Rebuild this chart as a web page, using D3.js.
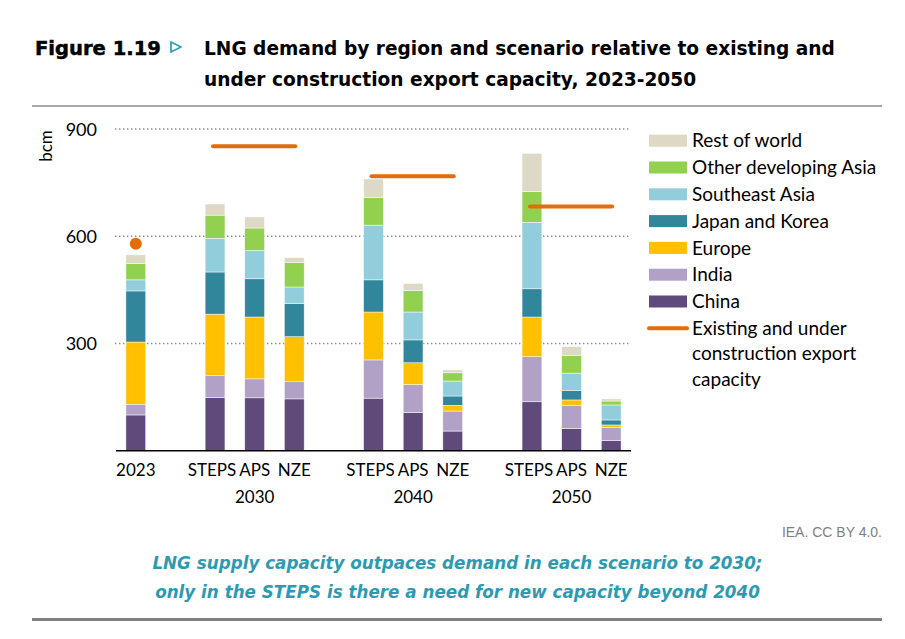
<!DOCTYPE html>
<html>
<head>
<meta charset="utf-8">
<script src="https://cdn.jsdelivr.net/npm/d3@7"></script>
<style>
  html, body { margin: 0; padding: 0; background: #fff; }
  svg { display: block; }
</style>
</head>
<body>
<svg id="chart" width="905" height="639"></svg>
<script>
// ---------------- DATA ----------------
const groups = ["2023", "2030", "2040", "2050"];
const categories = ["2023", "2030 STEPS", "2030 APS", "2030 NZE", "2040 STEPS", "2040 APS", "2040 NZE", "2050 STEPS", "2050 APS", "2050 NZE"];
const scenarioLabels = ["2023", "STEPS", "APS", "NZE", "STEPS", "APS", "NZE", "STEPS", "APS", "NZE"];
const seriesNames = ["China", "India", "Europe", "Japan and Korea", "Southeast Asia", "Other developing Asia", "Rest of world"];
const china       = [100, 149, 148, 145, 147, 107, 55, 137, 62, 28];
const india       = [30,  61,  53,  48,  107, 78,  56, 126, 64, 37];
const europe      = [174, 172, 173, 126, 134, 61,  16, 111, 16, 7];
const japanKorea  = [143, 118, 107, 93,  90,  64,  26, 79,  27, 14];
const southeastAsia = [31, 94, 79,  46,  153, 78,  42, 186, 48, 42];
const otherDevAsia  = [46, 65, 63,  68,  77,  60,  23, 86,  50, 11];
const restOfWorld   = [24, 31, 31,  14,  52,  20,  8,  107, 24, 6];
const capacityYears = ["2030", "2040", "2050"];
const capacityValues = [852, 768, 683];
const capacity2023 = 579;
const yTicks = [300, 600, 900];
const seriesColors = ["#604A7B", "#B2A1C7", "#FFC000", "#31869B", "#92CDDC", "#92D050", "#DDD9C4"];
const capacityColor = "#E46C0A";

// -------------- BUILD ----------------
const seriesValues = [china, india, europe, japanKorea, southeastAsia, otherDevAsia, restOfWorld];
const table = categories.map((c, i) => {
  const row = { cat: c, group: c.split(" ")[0], label: scenarioLabels[i] };
  seriesNames.forEach((s, k) => row[s] = seriesValues[k][i]);
  return row;
});
const slots = [];
groups.forEach((g, gi) => {
  if (gi > 0) slots.push("gap" + gi);
  categories.filter(c => c.split(" ")[0] === g).forEach(c => slots.push(c));
});

const svg = d3.select("#chart");
const FONT = "Lato, 'Noto Sans', sans-serif";

const x = d3.scaleBand().domain(slots).range([116, 631]).paddingInner(0.5).paddingOuter(0.25);
const y = d3.scaleLinear().domain([0, 900]).range([450.7, 129]);

// gridlines
svg.append("g").selectAll("line").data(yTicks).join("line")
  .attr("x1", 115).attr("x2", 630)
  .attr("y1", d => y(d)).attr("y2", d => y(d))
  .attr("stroke", "#8c8c8c").attr("stroke-width", 1.4)
  .attr("stroke-dasharray", "1.4 2.6");

// y axis tick labels
const yAxis = d3.axisLeft(y).tickValues(yTicks).tickSize(0).tickPadding(0).tickFormat(d3.format("d"));
const yg = svg.append("g").attr("transform", "translate(97,0)").call(yAxis);
yg.select(".domain").remove();
yg.selectAll("text").attr("font-family", FONT).attr("font-size", 18).attr("fill", "#000").attr("dy", "0.34em");

// y label
svg.append("text").attr("transform", "translate(52,146) rotate(-90)")
  .attr("text-anchor", "middle").attr("font-family", FONT).attr("font-size", 17).attr("fill", "#000").text("bcm");

// stacked bars
const stack = d3.stack().keys(seriesNames)(table);
svg.append("g").selectAll("g").data(stack).join("g")
  .attr("fill", (d, i) => seriesColors[i])
  .selectAll("rect").data(d => d).join("rect")
  .attr("x", d => x(d.data.cat))
  .attr("width", x.bandwidth())
  .attr("y", d => y(d[1]))
  .attr("height", d => y(d[0]) - y(d[1]))
  .attr("stroke", "#ffffff").attr("stroke-width", 0.6).attr("stroke-opacity", 0.8);

// baseline axis
const xAxis = d3.axisBottom(x).tickSize(0).tickFormat("");
const xg = svg.append("g").attr("transform", `translate(0,${y(0)})`).call(xAxis);
xg.select(".domain").attr("stroke", "#000").attr("stroke-width", 1.6).attr("d", `M116,0H631`);
xg.selectAll(".tick").remove();

// x labels row 1
svg.append("g").selectAll("text").data(table).join("text")
  .attr("x", d => x(d.cat) + x.bandwidth() / 2 - (d.label === "STEPS" ? 3 : 0))
  .attr("y", 476)
  .attr("text-anchor", "middle").attr("font-family", FONT).attr("font-size", 17).attr("fill", "#000")
  .text(d => d.label);
// x labels row 2 (years)
svg.append("g").selectAll("text").data(groups.slice(1)).join("text")
  .attr("x", g => {
    const cs = categories.filter(c => c.split(" ")[0] === g);
    return (x(cs[0]) + x(cs[cs.length - 1]) + x.bandwidth()) / 2;
  })
  .attr("y", 503)
  .attr("text-anchor", "middle").attr("font-family", FONT).attr("font-size", 17).attr("fill", "#000")
  .text(g => g);

// capacity lines
svg.append("g").selectAll("line").data(capacityYears).join("line")
  .attr("x1", (g) => x(g + " STEPS") + x.bandwidth() / 2 - 2)
  .attr("x2", (g) => x(g + " NZE") + x.bandwidth() / 2 + 1)
  .attr("y1", (g, i) => y(capacityValues[i]))
  .attr("y2", (g, i) => y(capacityValues[i]))
  .attr("stroke", capacityColor).attr("stroke-width", 4).attr("stroke-linecap", "round");
svg.append("circle").attr("cx", x("2023") + x.bandwidth() / 2).attr("cy", y(capacity2023)).attr("r", 6).attr("fill", capacityColor);

// legend
const legendItems = seriesNames.slice().reverse();
const legendColors = seriesColors.slice().reverse();
const lg = svg.append("g");
const LFS = 19;
legendItems.forEach((name, i) => {
  const cy = 140.7 + i * 26.8;
  lg.append("rect").attr("x", 649).attr("y", cy - 6).attr("width", 38).attr("height", 12).attr("fill", legendColors[i]);
  lg.append("text").attr("x", 692).attr("y", cy).attr("dy", "0.35em")
    .attr("font-family", FONT).attr("font-size", LFS).attr("fill", "#000").text(name);
});
{
  const cy = 140.7 + 7 * 26.8;
  lg.append("line").attr("x1", 649).attr("x2", 687).attr("y1", cy).attr("y2", cy)
    .attr("stroke", capacityColor).attr("stroke-width", 4).attr("stroke-linecap", "round");
  ["Existing and under", "construction export", "capacity"].forEach((t, j) => {
    lg.append("text").attr("x", 692).attr("y", cy + j * 25.5).attr("dy", "0.35em")
      .attr("font-family", FONT).attr("font-size", LFS).attr("fill", "#000").text(t);
  });
}

// title
function fit(sel, target) {
  const w = sel.node().getComputedTextLength();
  const fs = parseFloat(sel.attr("font-size"));
  sel.attr("font-size", fs * target / w);
}
const fig = svg.append("text").attr("x", 35).attr("y", 55).attr("font-family", "'DejaVu Sans', sans-serif")
  .attr("font-weight", "bold").attr("font-size", 20).attr("fill", "#000").attr("stroke", "#000").attr("stroke-width", 0.5)
  .text("Figure 1.19");
fit(fig, 126);
svg.append("path").attr("d", "M171,42 L181,47 L171,52 Z").attr("fill", "none").attr("stroke", "#31A0B8").attr("stroke-width", 1.8).attr("stroke-linejoin", "round");
const TFONT = "'DejaVu Sans', sans-serif";
const t1 = svg.append("text").attr("x", 204).attr("y", 55).attr("font-family", TFONT).attr("font-weight", "bold")
  .attr("font-size", 18).attr("fill", "#000").text("LNG demand by region and scenario relative to existing and");
fit(t1, 631);
svg.append("text").attr("x", 204).attr("y", 86).attr("font-family", TFONT).attr("font-weight", "bold")
  .attr("font-size", t1.attr("font-size")).attr("fill", "#000").text("under construction export capacity, 2023-2050");

// rules
svg.append("line").attr("x1", 32).attr("x2", 882).attr("y1", 106).attr("y2", 106).attr("stroke", "#8a8a8a").attr("stroke-width", 1.5);
svg.append("line").attr("x1", 32).attr("x2", 882).attr("y1", 619.5).attr("y2", 619.5).attr("stroke", "#808080").attr("stroke-width", 3);

// source
svg.append("text").attr("x", 882).attr("y", 532).attr("dy", "0.35em").attr("text-anchor", "end")
  .attr("font-family", "'Liberation Sans Narrow', 'Liberation Sans', sans-serif").attr("font-size", 14).attr("fill", "#7f7f7f")
  .text("IEA. CC BY 4.0.");

// subtitle
const SFONT = "'DejaVu Sans', sans-serif";
const s1 = svg.append("text").attr("x", 457.5).attr("y", 569).attr("text-anchor", "middle").attr("font-family", SFONT)
  .attr("font-weight", "bold").attr("font-style", "italic").attr("font-size", 17).attr("fill", "#2E9AB2")
  .text("LNG supply capacity outpaces demand in each scenario to 2030;");
fit(s1, 611);
svg.append("text").attr("x", 457.5).attr("y", 598).attr("text-anchor", "middle").attr("font-family", SFONT)
  .attr("font-weight", "bold").attr("font-style", "italic").attr("font-size", s1.attr("font-size")).attr("fill", "#2E9AB2")
  .text("only in the STEPS is there a need for new capacity beyond 2040");
</script>
</body>
</html>
